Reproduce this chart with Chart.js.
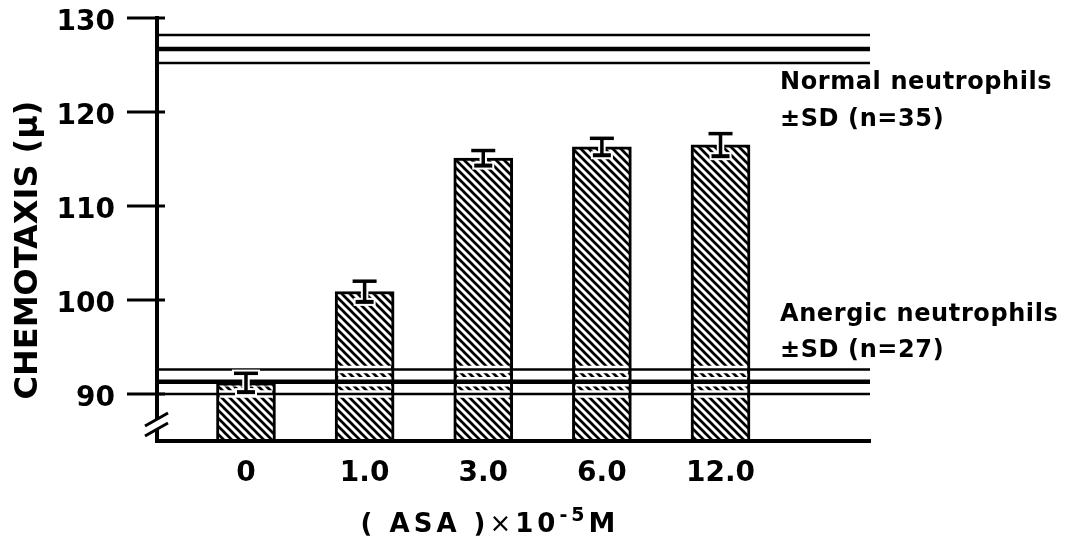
<!DOCTYPE html>
<html><head><meta charset="utf-8">
<script src="https://cdn.jsdelivr.net/npm/chart.js@4.4.1/dist/chart.umd.min.js"></script>
<style>html,body{margin:0;padding:0;background:#fff;}#wrap{width:1080px;height:538px;}</style>
</head><body><div id="wrap"><canvas id="c" width="1080" height="538"></canvas></div>
<script>
// ---- data ----
const categories = ['0', '1.0', '3.0', '6.0', '12.0'];
const chemotaxis = [91.2, 100.9, 115.1, 116.3, 116.5];
const chemotaxisSD = [1.0, 1.1, 0.8, 0.9, 1.2];
const yTickValues = [90, 100, 110, 120, 130];
const referenceMeans = [126.7, 91.3];
const referenceSDs = [1.5, 1.3];
const referenceLabels = [['Normal neutrophils', '±SD (n=35)'], ['Anergic neutrophils', '±SD (n=27)']];
const yTitle = 'CHEMOTAXIS (μ)';
const xTitleParts = ['( ASA )', '×', '10', '-5', 'M'];

const FONT = "'DejaVu Sans'";
Chart.defaults.font.family = FONT;
Chart.defaults.color = '#000';

function makeHatch() {
  const s = 8, c = document.createElement('canvas');
  c.width = s; c.height = s;
  const g = c.getContext('2d');
  g.fillStyle = '#fff'; g.fillRect(0, 0, s, s);
  g.strokeStyle = '#000'; g.lineWidth = 2.7; g.lineCap = 'square';
  g.beginPath();
  g.moveTo(-2, -2); g.lineTo(s + 2, s + 2);
  g.moveTo(-2, s - 2); g.lineTo(2, s + 2);
  g.moveTo(s - 2, -2); g.lineTo(s + 2, 2);
  g.stroke();
  return document.getElementById('c').getContext('2d').createPattern(c, 'repeat');
}

function seg(ctx, x1, y1, x2, y2) { ctx.beginPath(); ctx.moveTo(x1, y1); ctx.lineTo(x2, y2); ctx.stroke(); }

const overlay = {
  id: 'overlay',
  afterDatasetsDraw(chart) {
    const { ctx, chartArea: a, scales: { x, y } } = chart;
    const bars = chart.getDatasetMeta(0).data;
    ctx.save();
    ctx.lineCap = 'butt';
    // reference lines
    referenceMeans.forEach((m, i) => {
      const vals = [m + referenceSDs[i], m, m - referenceSDs[i]];
      const widths = [2.5, 4.5, 2.5];
      bars.forEach(b => {
        const left = b.x - b.width / 2 + 3, right = b.x + b.width / 2 - 3;
        ctx.save();
        ctx.beginPath(); ctx.rect(left, b.y + 3, right - left, b.base - b.y - 3); ctx.clip();
        ctx.strokeStyle = '#fff';
        vals.forEach((v, j) => { ctx.lineWidth = widths[j] + 5; const py = y.getPixelForValue(v); seg(ctx, left, py, right, py); });
        ctx.restore();
      });
      ctx.strokeStyle = '#000';
      vals.forEach((v, j) => { ctx.lineWidth = widths[j]; const py = y.getPixelForValue(v); seg(ctx, a.left, py, a.right, py); });
    });
    // error bars
    bars.forEach((b, i) => {
      const px = b.x;
      const top = y.getPixelForValue(chemotaxis[i] + chemotaxisSD[i]);
      const bot = y.getPixelForValue(chemotaxis[i] - chemotaxisSD[i]);
      const draw = (extra, col) => {
        ctx.strokeStyle = col;
        ctx.lineWidth = 3.5 + extra; seg(ctx, px, top, px, bot);
        ctx.lineWidth = 3.5 + extra; seg(ctx, px - 12 - extra / 2, top, px + 12 + extra / 2, top);
        ctx.lineWidth = 4 + extra; seg(ctx, px - 9 - extra / 2, bot, px + 9 + extra / 2, bot);
      };
      draw(4, '#fff');
      draw(0, '#000');
    });
    ctx.restore();
  },
  afterDraw(chart) {
    const { ctx, chartArea: a, scales: { y } } = chart;
    ctx.save();
    ctx.strokeStyle = '#000'; ctx.fillStyle = '#000';
    ctx.lineWidth = 3;
    yTickValues.forEach(v => { const py = y.getPixelForValue(v); seg(ctx, a.left - 30, py, a.left + 8, py); });
    // axis break
    const by = a.bottom - 20;
    ctx.fillStyle = '#fff';
    ctx.beginPath();
    ctx.moveTo(a.left - 12, by + 5); ctx.lineTo(a.left + 11, by - 8);
    ctx.lineTo(a.left + 11, by + 2); ctx.lineTo(a.left - 12, by + 15); ctx.closePath(); ctx.fill();
    ctx.lineWidth = 3;
    seg(ctx, a.left - 12, by + 5, a.left + 11, by - 8);
    seg(ctx, a.left - 12, by + 15, a.left + 11, by + 2);
    ctx.fillStyle = '#000';
    // y title
    ctx.save();
    ctx.translate(37, 250); ctx.rotate(-Math.PI / 2);
    ctx.font = `bold 32px ${FONT}`; ctx.textAlign = 'center'; ctx.textBaseline = 'alphabetic';
    ctx.fillText(yTitle, 0, 0);
    ctx.restore();
    // reference labels
    ctx.font = `bold 24px ${FONT}`; ctx.textAlign = 'left'; ctx.textBaseline = 'alphabetic';
    try { ctx.letterSpacing = '0.6px'; } catch (e) {}
    const labelY = [[89, 126], [321, 357]];
    referenceLabels.forEach((lines, i) => lines.forEach((t, j) => ctx.fillText(t, 780, labelY[i][j])));
    // x title with superscript
    try { ctx.letterSpacing = '4px'; } catch (e) {}
    const fonts = [`bold 26px ${FONT}`, `26px ${FONT}`, `bold 26px ${FONT}`, `bold 19px ${FONT}`, `bold 27px ${FONT}`];
    const rise = [0, 0, 0, -11, 0];
    let widths = xTitleParts.map((t, i) => { ctx.font = fonts[i]; return ctx.measureText(t).width; });
    const total = widths.reduce((s, w) => s + w, 0);
    let cx = 490 - total / 2;
    xTitleParts.forEach((t, i) => { ctx.font = fonts[i]; ctx.fillText(t, cx, 532 + rise[i]); cx += widths[i]; });
    ctx.restore();
  }
};

new Chart(document.getElementById('c'), {
  type: 'bar',
  data: {
    datasets: [{
      data: categories.map((c, i) => ({ x: i, y: chemotaxis[i] })),
      backgroundColor: makeHatch(),
      borderColor: '#000',
      borderWidth: 3,
      borderSkipped: 'start',
      barThickness: 59,
      base: 85
    }]
  },
  options: {
    responsive: false,
    animation: false,
    events: [],
    layout: { padding: { left: 0, right: 210, top: 18, bottom: 0 } },
    plugins: { legend: { display: false }, tooltip: { enabled: false } },
    scales: {
      x: {
        type: 'linear', min: -0.75, max: 5.26, offset: false,
        afterBuildTicks: s => { s.ticks = categories.map((c, i) => ({ value: i })); },
        afterFit: s => { s.height = 97; s.paddingLeft = 0; s.paddingRight = 0; },
        ticks: { callback: v => categories[v], font: { size: 28, weight: 'bold' }, padding: 8, autoSkip: false, maxRotation: 0 },
        grid: { display: false, offset: false },
        border: { display: true, color: '#000', width: 4, z: 1 }
      },
      y: {
        type: 'linear', min: 85, max: 130,
        afterBuildTicks: s => { s.ticks = yTickValues.map(v => ({ value: v })); },
        afterFit: s => { s.width = 157; s.paddingTop = 0; s.paddingBottom = 0; },
        ticks: { font: { size: 28, weight: 'bold' }, padding: 12, labelOffset: 5 },
        grid: { display: true, drawOnChartArea: false, drawTicks: true, tickLength: 30, color: 'rgba(0,0,0,0)' },
        border: { display: true, color: '#000', width: 4, z: 1 }
      }
    }
  },
  plugins: [overlay]
});
</script></body></html>
